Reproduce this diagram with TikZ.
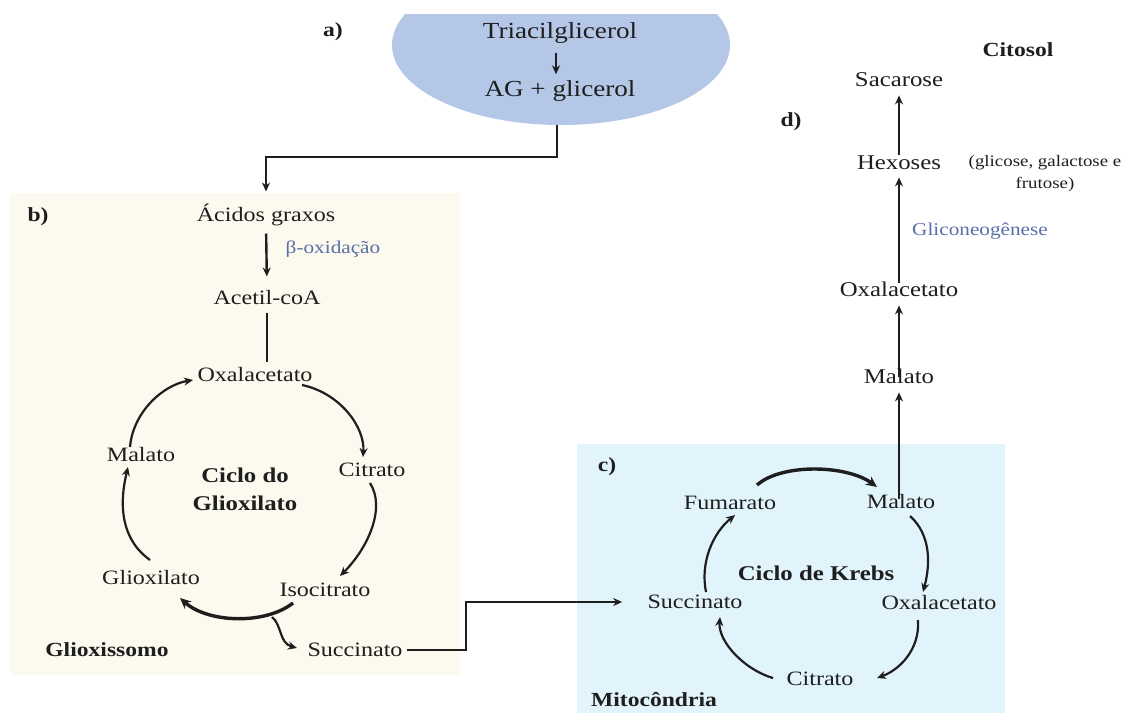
\documentclass[tikz,border=0pt]{standalone}
\usepackage{fontspec}
\setmainfont[FakeStretch=1.18]{Liberation Serif}
\usetikzlibrary{arrows.meta,calc}
\definecolor{ink}{HTML}{1E1E1E}
\definecolor{creambg}{HTML}{FCF9EE}
\definecolor{bluebg}{HTML}{E1F3FB}
\definecolor{ellcol}{HTML}{B4C7E7}
\definecolor{bluetxt}{HTML}{5A6FA8}
\tikzset{
  base/.style={inner sep=0pt, text=ink},
  t10/.style={base, font=\fontsize{10.2}{12}\selectfont, text height=7.6pt, text depth=1.5pt},
  t105/.style={base, font=\fontsize{10.5}{12.5}\selectfont, text height=7.9pt, text depth=1.6pt},
  t11/.style={base, font=\fontsize{11.5}{13}\selectfont, text height=8.6pt, text depth=1.7pt},
  lbl/.style={base, font=\bfseries\fontsize{10}{12}\selectfont, text height=7.5pt, text depth=1.5pt},
  cycname/.style={base, font=\bfseries\fontsize{10.5}{14}\selectfont, align=center},
  blu/.style={inner sep=0pt, text=bluetxt, font=\fontsize{9}{11}\selectfont, text height=6.75pt, text depth=1.35pt},
  note/.style={base, font=\fontsize{8}{11}\selectfont, align=center},
  arr/.style={draw=ink, line width=1.2pt, -{Stealth[length=4.5pt,width=4pt]}},
  cyc/.style={arr, line width=1.1pt},
  cyck/.style={draw=ink, line width=1.7pt, -{Stealth[length=5.5pt,width=5pt]}},
}
\begin{document}
\begin{tikzpicture}[x=0.5pt,y=-0.5pt]
\useasboundingbox (0,0) rectangle (1123,713);
\fill[white] (0,0) rectangle (1123,713);
% compartments
\fill[creambg] (10,193) rectangle (460,675);
\fill[bluebg] (577,444) rectangle (1005,713);
\begin{scope}
  \clip (380,14) rectangle (745,140);
  \fill[ellcol] (561,45) ellipse [x radius=84.5pt, y radius=40pt];
\end{scope}
\coordinate (ellB) at (557,125);

% a)
\node[lbl] (la) at (333,30) {a)};
\node[t11] (Tri) at (560,32) {Triacilglicerol};
\node[t11] (AG) at (560,90) {AG + glicerol};
\draw[arr, shorten <=5pt, shorten >=2.5pt] ($(Tri.south)+(-4,0)$) -- ($(AG.north)+(-4,0)$);

% b)
\node[lbl] (lb) at (38,215) {b)};
\node[t10] (AcG) at (266,215) {Ácidos graxos};
\node[blu] (beta) at (333,248) {β-oxidação};
\node[t10] (AcCoA) at (267,298) {Acetil-coA};
\node[t10] (OxB) at (255,375) {Oxalacetato};
\node[t10] (CiB) at (372,470) {Citrato};
\node[t10] (IsoB) at (325,590) {Isocitrato};
\node[t10] (SucB) at (355,650) {Succinato};
\node[t10] (GliB) at (151,578) {Glioxilato};
\node[t10] (MalB) at (141,455) {Malato};
\node[cycname] (CycB) at (245,489) {Ciclo do\\Glioxilato};
\node[lbl] (Glx) at (107,650) {Glioxissomo};

\draw[arr, shorten >=7pt] (ellB) -- ++(0,32) -| (AcG.north);
\draw[arr, shorten <=4.5pt, shorten >=6pt] (AcG.south) -- (AcCoA.north);
\draw[draw=ink, line width=1.2pt, shorten <=2.5pt, shorten >=2pt] (AcCoA.south) -- (AcCoA.south |- OxB.north);

\draw[cyc] ($(OxB)+(47,10)$) .. controls +(38,8) and +(2,-30) .. ($(CiB)+(-9,-13)$);
\draw[cyc] ($(CiB)+(-2,13)$) .. controls +(16,25) and +(28,-28) .. ($(IsoB)+(15,-14)$);
\draw[cyck] ($(IsoB)+(-32,13)$) .. controls +(-28,22) and +(28,25) .. ($(GliB)+(29,20)$);
\draw[cyc] ($(IsoB)+(-53,27)$) .. controls +(10,8) and +(-18,-5) .. ($(SucB)+(-58,-2)$);
\draw[cyc] ($(GliB)+(-1,-18)$) .. controls +(-35,-25) and +(-6,25) .. ($(MalB)+(-13,12)$);
\draw[cyc] ($(MalB)+(-11,-8)$) .. controls +(3,-35) and +(-30,5) .. ($(OxB)+(-62,5)$);

% c)
\node[lbl] (lc) at (607,465) {c)};
\node[t10] (FumK) at (730,503) {Fumarato};
\node[t10] (MalK) at (901,502) {Malato};
\node[t10] (OxK) at (939,603) {Oxalacetato};
\node[t10] (CitK) at (820,679) {Citrato};
\node[t10] (SucK) at (695,602) {Succinato};
\node[cycname] (CycK) at (816,573) {Ciclo de Krebs};
\node[lbl] (Mito) at (654,700) {Mitocôndria};

\draw[arr, shorten <=2pt, shorten >=12.5pt] (SucB.east) -- ++(63,0) |- (SucK.west);

\draw[cyck] ($(FumK)+(27,-18)$) .. controls +(25,-22) and +(-30,-22) .. ($(MalK)+(-24,-15)$);
\draw[cyc] ($(MalK)+(9,14)$) .. controls +(20,18) and +(8,-30) .. ($(OxK)+(-16,-11)$);
\draw[cyc] ($(OxK)+(-21,17)$) .. controls +(2,30) and +(22,-8) .. ($(CitK)+(57,-1)$);
\draw[cyc] ($(CitK)+(-47,-1)$) .. controls +(-28,-8) and +(-2,25) .. ($(SucK)+(25,15)$);
\draw[cyc] ($(SucK)+(11,-10)$) .. controls +(-6,-30) and +(-22,18) .. ($(FumK)+(5,12)$);

% d)
\node[lbl] (Cit) at (1018,50) {Citosol};
\node[t105] (Sac) at (899,80) {Sacarose};
\node[lbl] (ld) at (791,120) {d)};
\node[t105] (Hex) at (899,163) {Hexoses};
\node[note] (glic) at (1045,174) {(glicose, galactose e\\frutose)};
\node[blu] (Glic) at (980,230) {Gliconeogênese};
\node[t105] (OxD) at (899,290) {Oxalacetato};
\node[t105] (MalD) at (899,377) {Malato};

\draw[arr, shorten <=-3pt, shorten >=2.75pt] (MalK.north -| MalD.south) -- (MalD.south);
\draw[arr, shorten <=-4.75pt, shorten >=2.75pt] (MalD.north) -- (OxD.south);
\draw[arr, shorten <=-1.25pt, shorten >=2.25pt] (OxD.north) -- (Hex.south);
\draw[arr, shorten <=-0.75pt, shorten >=2.75pt] (Hex.north) -- (Sac.south);
\end{tikzpicture}
\end{document}
